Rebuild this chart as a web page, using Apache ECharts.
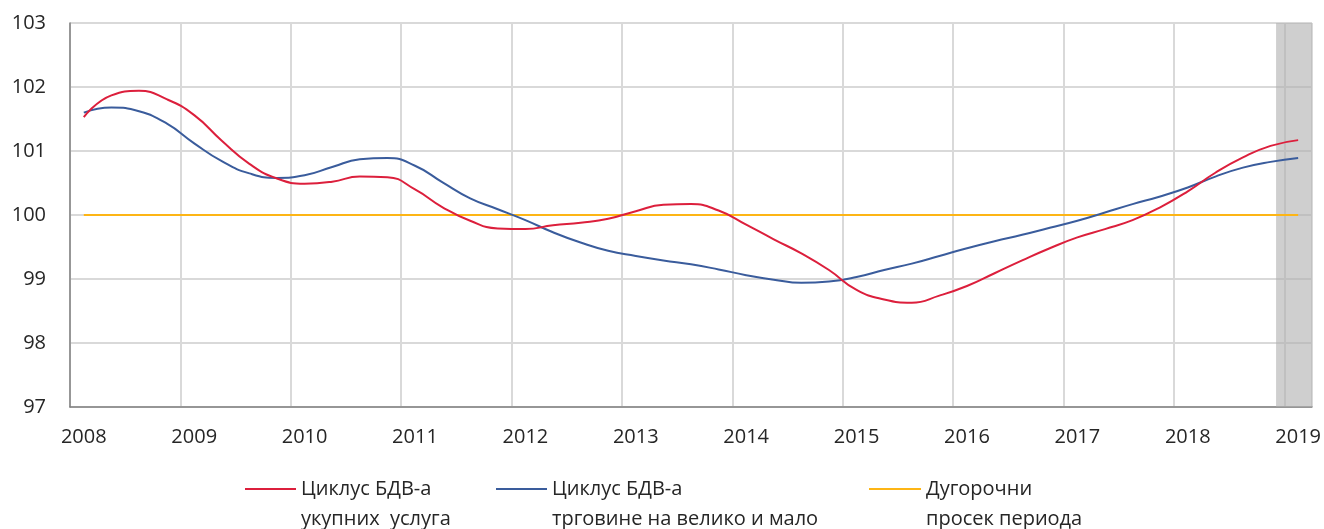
<!DOCTYPE html>
<html>
<head>
<meta charset="utf-8">
<script src="https://cdn.jsdelivr.net/npm/echarts@6/dist/echarts.min.js"></script>
<style>
  html, body { margin: 0; padding: 0; background: #fff; }
  #chart { width: 1324px; height: 529px; }
</style>
</head>
<body>
<div id="chart"></div>
<script>
// Years shown on the axis (quarterly data 2008Q1 .. 2019Q1)
const years = ['2008','2009','2010','2011','2012','2013','2014','2015','2016','2017','2018','2019'];
const quarters = ['Q1','Q2','Q3','Q4'];
const categories = years.flatMap(y => quarters.map(q => y + q)).slice(0, 45);

const seriesNames = ['Циклус БДВ-а\nукупних  услуга', 'Циклус БДВ-а\nтрговине на велико и мало', 'Дугорочни\nпросек периода'];

// Cycle of GVA of total services
const servicesCycle = [
  101.53, 101.87, 101.94, 101.81, 101.56, 101.16, 100.80, 100.57, 100.49, 100.52, 100.60, 100.59,
  100.40, 100.12, 99.91, 99.79, 99.78, 99.84, 99.88, 99.94, 100.06, 100.16, 100.17, 100.07,
  99.85, 99.62, 99.40, 99.14, 98.83, 98.68, 98.63, 98.74, 98.89, 99.09, 99.29, 99.48,
  99.65, 99.78, 99.92, 100.12, 100.37, 100.66, 100.90, 101.08, 101.17
];
// Cycle of GVA of wholesale and retail trade
const tradeCycle = [
  101.60, 101.68, 101.62, 101.43, 101.12, 100.84, 100.65, 100.58, 100.62, 100.75, 100.87, 100.89,
  100.77, 100.51, 100.26, 100.09, 99.92, 99.73, 99.57, 99.44, 99.36, 99.29, 99.23, 99.15,
  99.06, 98.99, 98.94, 98.96, 99.03, 99.14, 99.24, 99.36, 99.48, 99.59, 99.69, 99.80,
  99.91, 100.04, 100.17, 100.29, 100.43, 100.60, 100.74, 100.83, 100.89
];
// Long-term period average
const longTermAverage = [
  100, 100, 100, 100, 100, 100, 100, 100, 100, 100, 100, 100,
  100, 100, 100, 100, 100, 100, 100, 100, 100, 100, 100, 100,
  100, 100, 100, 100, 100, 100, 100, 100, 100, 100, 100, 100,
  100, 100, 100, 100, 100, 100, 100, 100, 100
];
// Shaded (projection) range, in quarter-index units
const shadeRange = [43.2, 44.5];

const yTicks = { min: 97, max: 103, interval: 1 };

const FONT = '"Open Sans", "Noto Sans", sans-serif';
const colors = ['#DC1F3C', '#3A5C9C', '#FDB515'];

function legendAt(name, left, width) {
  return {
    data: [name],
    left: left,
    top: 444,
    padding: 0,
    icon: 'rect',
    itemWidth: width,
    itemHeight: 2,
    selectedMode: false,
    formatter: n => ' \n' + n,
    textStyle: {
      fontFamily: FONT, fontSize: 20, color: '#262626',
      lineHeight: 30
    }
  };
}

const chart = echarts.init(document.getElementById('chart'));
chart.setOption({
  animation: false,
  color: colors,
  grid: { left: 70, right: 10, top: 23, bottom: 122, containLabel: false },
  legend: [
    legendAt(seriesNames[0], 245, 51),
    legendAt(seriesNames[1], 496, 51),
    legendAt(seriesNames[2], 869, 52)
  ],
  xAxis: [{
    type: 'category',
    data: categories,
    boundaryGap: true,
    axisLine: { lineStyle: { color: '#808080', width: 1.5 } },
    axisTick: { show: false },
    axisLabel: {
      interval: 3,
      margin: 20,
      fontFamily: FONT, fontSize: 20, color: '#262626',
      formatter: v => v.slice(0, 4)
    },
    splitLine: {
      show: true,
      interval: (i) => i % 4 === 0,
      lineStyle: { color: '#d9d9d9', width: 2 }
    }
  }, {
    type: 'value',
    min: -0.5,
    max: 44.5,
    show: false,
    splitLine: { show: false }
  }],
  yAxis: {
    type: 'value',
    min: yTicks.min,
    max: yTicks.max,
    interval: yTicks.interval,
    axisLine: { show: true, onZero: false, lineStyle: { color: '#808080', width: 1.5 } },
    axisTick: { show: false },
    axisLabel: { margin: 24, fontFamily: FONT, fontSize: 20, color: '#262626' },
    splitLine: { lineStyle: { color: '#d9d9d9', width: 2 } }
  },
  series: [{
    name: seriesNames[0],
    type: 'line',
    data: servicesCycle,
    smooth: 0.5,
    symbol: 'none',
    lineStyle: { width: 2, color: colors[0] },
    z: 4
  }, {
    name: seriesNames[1],
    type: 'line',
    data: tradeCycle,
    smooth: 0.5,
    symbol: 'none',
    lineStyle: { width: 2, color: colors[1] },
    z: 3
  }, {
    name: seriesNames[2],
    type: 'line',
    data: longTermAverage,
    symbol: 'none',
    lineStyle: { width: 2, color: colors[2] },
    z: 2
  }, {
    name: 'shade',
    type: 'line',
    xAxisIndex: 1,
    data: [],
    symbol: 'none',
    z: 10,
    silent: true,
    markArea: {
      silent: true,
      itemStyle: { color: 'rgba(175,175,175,0.6)' },
      data: [[{ xAxis: shadeRange[0] }, { xAxis: shadeRange[1] }]]
    }
  }]
});
</script>
</body>
</html>
